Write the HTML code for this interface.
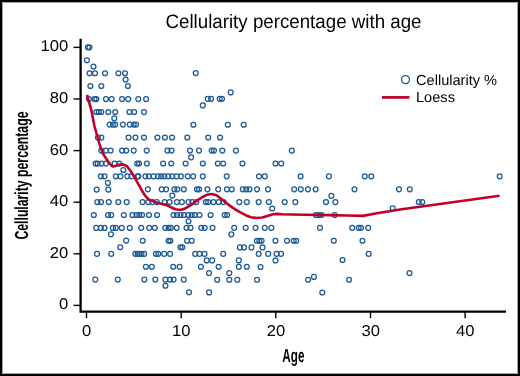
<!DOCTYPE html>
<html><head><meta charset="utf-8"><style>
html,body{margin:0;padding:0;background:#fff;}
svg{display:block;}
text{font-family:"Liberation Sans",sans-serif;fill:#000;text-rendering:geometricPrecision;}
</style></head><body>
<svg width="520" height="376" viewBox="0 0 520 376">
<rect x="0" y="0" width="520" height="376" fill="#fff"/>
<g fill="none" stroke="#1b5a95" stroke-width="1.25">
<circle cx="87.9" cy="47.3" r="2.45"/>
<circle cx="89.4" cy="47.3" r="2.45"/>
<circle cx="86.9" cy="60.2" r="2.45"/>
<circle cx="93.5" cy="66.5" r="2.45"/>
<circle cx="89.6" cy="73.2" r="2.45"/>
<circle cx="95.0" cy="73.2" r="2.45"/>
<circle cx="105.0" cy="73.2" r="2.45"/>
<circle cx="118.4" cy="73.2" r="2.45"/>
<circle cx="125.0" cy="73.2" r="2.45"/>
<circle cx="125.6" cy="79.6" r="2.45"/>
<circle cx="90.4" cy="86.0" r="2.45"/>
<circle cx="101.3" cy="86.0" r="2.45"/>
<circle cx="127.9" cy="86.0" r="2.45"/>
<circle cx="89.0" cy="99.1" r="2.45"/>
<circle cx="94.6" cy="99.1" r="2.45"/>
<circle cx="96.3" cy="99.1" r="2.45"/>
<circle cx="106.0" cy="99.1" r="2.45"/>
<circle cx="111.7" cy="99.1" r="2.45"/>
<circle cx="122.1" cy="99.1" r="2.45"/>
<circle cx="128.2" cy="99.1" r="2.45"/>
<circle cx="138.3" cy="99.1" r="2.45"/>
<circle cx="96.3" cy="112.0" r="2.45"/>
<circle cx="98.7" cy="112.0" r="2.45"/>
<circle cx="101.2" cy="112.0" r="2.45"/>
<circle cx="108.3" cy="112.0" r="2.45"/>
<circle cx="115.2" cy="112.0" r="2.45"/>
<circle cx="129.4" cy="112.0" r="2.45"/>
<circle cx="134.2" cy="112.0" r="2.45"/>
<circle cx="114.3" cy="118.3" r="2.45"/>
<circle cx="109.7" cy="124.6" r="2.45"/>
<circle cx="112.9" cy="124.6" r="2.45"/>
<circle cx="115.2" cy="124.6" r="2.45"/>
<circle cx="122.9" cy="124.6" r="2.45"/>
<circle cx="129.8" cy="124.6" r="2.45"/>
<circle cx="133.7" cy="124.6" r="2.45"/>
<circle cx="136.0" cy="124.6" r="2.45"/>
<circle cx="97.9" cy="137.6" r="2.45"/>
<circle cx="101.3" cy="137.6" r="2.45"/>
<circle cx="128.5" cy="137.6" r="2.45"/>
<circle cx="135.4" cy="137.6" r="2.45"/>
<circle cx="101.3" cy="150.6" r="2.45"/>
<circle cx="106.0" cy="150.6" r="2.45"/>
<circle cx="110.6" cy="150.6" r="2.45"/>
<circle cx="122.1" cy="150.6" r="2.45"/>
<circle cx="126.2" cy="150.6" r="2.45"/>
<circle cx="133.7" cy="150.6" r="2.45"/>
<circle cx="95.6" cy="163.6" r="2.45"/>
<circle cx="97.6" cy="163.6" r="2.45"/>
<circle cx="101.6" cy="163.6" r="2.45"/>
<circle cx="105.8" cy="163.6" r="2.45"/>
<circle cx="114.6" cy="163.6" r="2.45"/>
<circle cx="119.2" cy="163.6" r="2.45"/>
<circle cx="123.3" cy="170.0" r="2.45"/>
<circle cx="100.8" cy="176.3" r="2.45"/>
<circle cx="104.5" cy="176.3" r="2.45"/>
<circle cx="115.8" cy="176.3" r="2.45"/>
<circle cx="120.4" cy="176.3" r="2.45"/>
<circle cx="127.3" cy="176.3" r="2.45"/>
<circle cx="131.5" cy="176.3" r="2.45"/>
<circle cx="137.7" cy="176.3" r="2.45"/>
<circle cx="107.9" cy="182.9" r="2.45"/>
<circle cx="96.7" cy="189.6" r="2.45"/>
<circle cx="108.3" cy="189.6" r="2.45"/>
<circle cx="97.3" cy="202.1" r="2.45"/>
<circle cx="101.0" cy="202.1" r="2.45"/>
<circle cx="108.8" cy="202.1" r="2.45"/>
<circle cx="118.3" cy="202.1" r="2.45"/>
<circle cx="126.7" cy="202.1" r="2.45"/>
<circle cx="93.8" cy="215.0" r="2.45"/>
<circle cx="108.0" cy="215.0" r="2.45"/>
<circle cx="111.2" cy="215.0" r="2.45"/>
<circle cx="123.8" cy="215.0" r="2.45"/>
<circle cx="132.5" cy="215.0" r="2.45"/>
<circle cx="96.2" cy="227.9" r="2.45"/>
<circle cx="100.8" cy="227.9" r="2.45"/>
<circle cx="104.5" cy="227.9" r="2.45"/>
<circle cx="112.9" cy="227.9" r="2.45"/>
<circle cx="115.8" cy="227.9" r="2.45"/>
<circle cx="121.8" cy="227.9" r="2.45"/>
<circle cx="129.8" cy="227.9" r="2.45"/>
<circle cx="110.9" cy="234.3" r="2.45"/>
<circle cx="126.2" cy="240.6" r="2.45"/>
<circle cx="120.2" cy="247.2" r="2.45"/>
<circle cx="97.0" cy="253.8" r="2.45"/>
<circle cx="111.2" cy="253.8" r="2.45"/>
<circle cx="135.4" cy="253.8" r="2.45"/>
<circle cx="137.7" cy="253.8" r="2.45"/>
<circle cx="95.3" cy="279.6" r="2.45"/>
<circle cx="117.8" cy="279.6" r="2.45"/>
<circle cx="146.1" cy="99.1" r="2.45"/>
<circle cx="144.0" cy="112.1" r="2.45"/>
<circle cx="144.0" cy="137.5" r="2.45"/>
<circle cx="157.4" cy="137.5" r="2.45"/>
<circle cx="164.9" cy="137.5" r="2.45"/>
<circle cx="172.1" cy="137.5" r="2.45"/>
<circle cx="187.3" cy="137.5" r="2.45"/>
<circle cx="146.7" cy="150.6" r="2.45"/>
<circle cx="167.5" cy="150.6" r="2.45"/>
<circle cx="171.5" cy="150.6" r="2.45"/>
<circle cx="190.0" cy="150.6" r="2.45"/>
<circle cx="191.1" cy="157.3" r="2.45"/>
<circle cx="137.2" cy="163.5" r="2.45"/>
<circle cx="139.0" cy="163.5" r="2.45"/>
<circle cx="146.9" cy="163.5" r="2.45"/>
<circle cx="163.1" cy="163.5" r="2.45"/>
<circle cx="171.2" cy="163.5" r="2.45"/>
<circle cx="185.6" cy="163.5" r="2.45"/>
<circle cx="145.4" cy="176.3" r="2.45"/>
<circle cx="148.9" cy="176.3" r="2.45"/>
<circle cx="153.5" cy="176.3" r="2.45"/>
<circle cx="157.9" cy="176.3" r="2.45"/>
<circle cx="161.2" cy="176.3" r="2.45"/>
<circle cx="164.3" cy="176.3" r="2.45"/>
<circle cx="168.3" cy="176.3" r="2.45"/>
<circle cx="172.3" cy="176.3" r="2.45"/>
<circle cx="176.5" cy="176.3" r="2.45"/>
<circle cx="180.9" cy="176.3" r="2.45"/>
<circle cx="187.7" cy="176.3" r="2.45"/>
<circle cx="193.2" cy="176.3" r="2.45"/>
<circle cx="147.8" cy="189.3" r="2.45"/>
<circle cx="161.7" cy="189.3" r="2.45"/>
<circle cx="166.1" cy="189.3" r="2.45"/>
<circle cx="174.4" cy="189.3" r="2.45"/>
<circle cx="177.3" cy="189.3" r="2.45"/>
<circle cx="183.8" cy="189.3" r="2.45"/>
<circle cx="172.3" cy="195.6" r="2.45"/>
<circle cx="142.5" cy="202.1" r="2.45"/>
<circle cx="148.3" cy="202.1" r="2.45"/>
<circle cx="152.5" cy="202.1" r="2.45"/>
<circle cx="156.8" cy="202.1" r="2.45"/>
<circle cx="164.6" cy="202.1" r="2.45"/>
<circle cx="169.6" cy="202.1" r="2.45"/>
<circle cx="176.9" cy="202.1" r="2.45"/>
<circle cx="181.9" cy="202.1" r="2.45"/>
<circle cx="188.5" cy="202.1" r="2.45"/>
<circle cx="192.3" cy="202.1" r="2.45"/>
<circle cx="196.2" cy="202.1" r="2.45"/>
<circle cx="136.5" cy="215.0" r="2.45"/>
<circle cx="139.3" cy="215.0" r="2.45"/>
<circle cx="142.1" cy="215.0" r="2.45"/>
<circle cx="149.0" cy="215.0" r="2.45"/>
<circle cx="157.1" cy="215.0" r="2.45"/>
<circle cx="173.5" cy="215.0" r="2.45"/>
<circle cx="177.0" cy="215.0" r="2.45"/>
<circle cx="180.5" cy="215.0" r="2.45"/>
<circle cx="184.0" cy="215.0" r="2.45"/>
<circle cx="188.3" cy="215.0" r="2.45"/>
<circle cx="191.8" cy="215.0" r="2.45"/>
<circle cx="194.8" cy="215.0" r="2.45"/>
<circle cx="199.5" cy="215.0" r="2.45"/>
<circle cx="210.6" cy="215.0" r="2.45"/>
<circle cx="188.5" cy="221.2" r="2.45"/>
<circle cx="141.2" cy="227.8" r="2.45"/>
<circle cx="149.2" cy="227.8" r="2.45"/>
<circle cx="154.8" cy="227.8" r="2.45"/>
<circle cx="165.2" cy="227.8" r="2.45"/>
<circle cx="168.6" cy="227.8" r="2.45"/>
<circle cx="170.9" cy="227.8" r="2.45"/>
<circle cx="176.7" cy="227.8" r="2.45"/>
<circle cx="186.5" cy="227.8" r="2.45"/>
<circle cx="190.5" cy="227.8" r="2.45"/>
<circle cx="142.7" cy="240.7" r="2.45"/>
<circle cx="168.6" cy="240.7" r="2.45"/>
<circle cx="170.3" cy="240.7" r="2.45"/>
<circle cx="187.1" cy="240.7" r="2.45"/>
<circle cx="191.7" cy="240.7" r="2.45"/>
<circle cx="180.5" cy="247.2" r="2.45"/>
<circle cx="182.3" cy="247.2" r="2.45"/>
<circle cx="139.2" cy="253.8" r="2.45"/>
<circle cx="141.5" cy="253.8" r="2.45"/>
<circle cx="144.2" cy="253.8" r="2.45"/>
<circle cx="155.9" cy="253.8" r="2.45"/>
<circle cx="158.2" cy="253.8" r="2.45"/>
<circle cx="164.2" cy="253.8" r="2.45"/>
<circle cx="170.1" cy="253.8" r="2.45"/>
<circle cx="145.9" cy="266.8" r="2.45"/>
<circle cx="151.9" cy="266.8" r="2.45"/>
<circle cx="173.2" cy="266.8" r="2.45"/>
<circle cx="179.6" cy="266.8" r="2.45"/>
<circle cx="144.4" cy="279.6" r="2.45"/>
<circle cx="155.3" cy="279.6" r="2.45"/>
<circle cx="165.4" cy="279.6" r="2.45"/>
<circle cx="170.0" cy="279.6" r="2.45"/>
<circle cx="173.6" cy="279.6" r="2.45"/>
<circle cx="183.8" cy="279.6" r="2.45"/>
<circle cx="165.4" cy="285.8" r="2.45"/>
<circle cx="189.0" cy="292.3" r="2.45"/>
<circle cx="195.7" cy="73.1" r="2.45"/>
<circle cx="230.7" cy="92.4" r="2.45"/>
<circle cx="207.8" cy="98.8" r="2.45"/>
<circle cx="211.1" cy="98.8" r="2.45"/>
<circle cx="219.7" cy="98.8" r="2.45"/>
<circle cx="222.0" cy="98.8" r="2.45"/>
<circle cx="202.8" cy="105.4" r="2.45"/>
<circle cx="193.4" cy="124.7" r="2.45"/>
<circle cx="227.8" cy="124.7" r="2.45"/>
<circle cx="243.7" cy="124.7" r="2.45"/>
<circle cx="208.2" cy="137.5" r="2.45"/>
<circle cx="220.1" cy="137.5" r="2.45"/>
<circle cx="199.0" cy="150.6" r="2.45"/>
<circle cx="211.7" cy="150.6" r="2.45"/>
<circle cx="214.0" cy="150.6" r="2.45"/>
<circle cx="222.3" cy="150.6" r="2.45"/>
<circle cx="235.9" cy="150.6" r="2.45"/>
<circle cx="202.8" cy="163.5" r="2.45"/>
<circle cx="217.8" cy="163.5" r="2.45"/>
<circle cx="223.2" cy="163.5" r="2.45"/>
<circle cx="242.5" cy="163.5" r="2.45"/>
<circle cx="202.8" cy="176.3" r="2.45"/>
<circle cx="226.7" cy="176.3" r="2.45"/>
<circle cx="197.0" cy="189.3" r="2.45"/>
<circle cx="199.0" cy="189.3" r="2.45"/>
<circle cx="207.4" cy="189.3" r="2.45"/>
<circle cx="218.2" cy="189.3" r="2.45"/>
<circle cx="227.0" cy="189.3" r="2.45"/>
<circle cx="231.8" cy="189.3" r="2.45"/>
<circle cx="242.8" cy="189.3" r="2.45"/>
<circle cx="246.3" cy="189.3" r="2.45"/>
<circle cx="205.9" cy="202.1" r="2.45"/>
<circle cx="208.2" cy="202.1" r="2.45"/>
<circle cx="213.6" cy="202.1" r="2.45"/>
<circle cx="218.6" cy="202.1" r="2.45"/>
<circle cx="223.5" cy="202.1" r="2.45"/>
<circle cx="239.3" cy="202.1" r="2.45"/>
<circle cx="246.8" cy="202.1" r="2.45"/>
<circle cx="224.7" cy="215.0" r="2.45"/>
<circle cx="227.2" cy="215.0" r="2.45"/>
<circle cx="201.3" cy="227.8" r="2.45"/>
<circle cx="204.7" cy="227.8" r="2.45"/>
<circle cx="212.5" cy="227.8" r="2.45"/>
<circle cx="234.2" cy="227.8" r="2.45"/>
<circle cx="245.7" cy="227.8" r="2.45"/>
<circle cx="231.3" cy="234.3" r="2.45"/>
<circle cx="239.9" cy="247.4" r="2.45"/>
<circle cx="244.0" cy="247.4" r="2.45"/>
<circle cx="195.2" cy="253.8" r="2.45"/>
<circle cx="199.5" cy="253.8" r="2.45"/>
<circle cx="204.5" cy="253.8" r="2.45"/>
<circle cx="223.2" cy="253.8" r="2.45"/>
<circle cx="206.7" cy="260.4" r="2.45"/>
<circle cx="212.2" cy="260.4" r="2.45"/>
<circle cx="238.8" cy="260.4" r="2.45"/>
<circle cx="200.9" cy="266.8" r="2.45"/>
<circle cx="218.6" cy="266.8" r="2.45"/>
<circle cx="238.8" cy="266.8" r="2.45"/>
<circle cx="246.8" cy="266.8" r="2.45"/>
<circle cx="209.0" cy="273.1" r="2.45"/>
<circle cx="229.3" cy="273.1" r="2.45"/>
<circle cx="217.2" cy="279.7" r="2.45"/>
<circle cx="229.3" cy="279.7" r="2.45"/>
<circle cx="237.3" cy="279.7" r="2.45"/>
<circle cx="209.1" cy="292.4" r="2.45"/>
<circle cx="291.8" cy="150.6" r="2.45"/>
<circle cx="275.5" cy="163.5" r="2.45"/>
<circle cx="281.2" cy="163.5" r="2.45"/>
<circle cx="259.0" cy="176.3" r="2.45"/>
<circle cx="264.8" cy="176.3" r="2.45"/>
<circle cx="249.5" cy="189.3" r="2.45"/>
<circle cx="257.0" cy="189.3" r="2.45"/>
<circle cx="268.0" cy="189.3" r="2.45"/>
<circle cx="294.2" cy="189.3" r="2.45"/>
<circle cx="300.8" cy="189.3" r="2.45"/>
<circle cx="258.7" cy="202.1" r="2.45"/>
<circle cx="268.9" cy="202.1" r="2.45"/>
<circle cx="284.7" cy="202.1" r="2.45"/>
<circle cx="295.3" cy="202.1" r="2.45"/>
<circle cx="272.2" cy="208.5" r="2.45"/>
<circle cx="255.6" cy="227.8" r="2.45"/>
<circle cx="264.8" cy="227.8" r="2.45"/>
<circle cx="271.4" cy="227.8" r="2.45"/>
<circle cx="256.8" cy="240.7" r="2.45"/>
<circle cx="259.3" cy="240.7" r="2.45"/>
<circle cx="261.6" cy="240.7" r="2.45"/>
<circle cx="275.5" cy="240.7" r="2.45"/>
<circle cx="287.0" cy="240.7" r="2.45"/>
<circle cx="293.7" cy="240.7" r="2.45"/>
<circle cx="296.2" cy="240.7" r="2.45"/>
<circle cx="251.5" cy="247.4" r="2.45"/>
<circle cx="262.5" cy="247.4" r="2.45"/>
<circle cx="258.7" cy="253.8" r="2.45"/>
<circle cx="268.2" cy="253.8" r="2.45"/>
<circle cx="276.6" cy="253.8" r="2.45"/>
<circle cx="281.0" cy="253.8" r="2.45"/>
<circle cx="275.5" cy="260.4" r="2.45"/>
<circle cx="260.5" cy="267.0" r="2.45"/>
<circle cx="257.0" cy="279.8" r="2.45"/>
<circle cx="300.6" cy="176.3" r="2.45"/>
<circle cx="328.9" cy="176.3" r="2.45"/>
<circle cx="307.9" cy="189.3" r="2.45"/>
<circle cx="315.6" cy="189.3" r="2.45"/>
<circle cx="331.4" cy="195.8" r="2.45"/>
<circle cx="326.0" cy="202.1" r="2.45"/>
<circle cx="335.4" cy="202.1" r="2.45"/>
<circle cx="315.8" cy="215.0" r="2.45"/>
<circle cx="319.1" cy="215.0" r="2.45"/>
<circle cx="321.4" cy="215.0" r="2.45"/>
<circle cx="334.7" cy="215.0" r="2.45"/>
<circle cx="320.0" cy="227.8" r="2.45"/>
<circle cx="352.2" cy="227.8" r="2.45"/>
<circle cx="333.8" cy="240.7" r="2.45"/>
<circle cx="342.5" cy="260.0" r="2.45"/>
<circle cx="313.9" cy="276.9" r="2.45"/>
<circle cx="308.1" cy="279.8" r="2.45"/>
<circle cx="349.1" cy="279.8" r="2.45"/>
<circle cx="322.3" cy="292.5" r="2.45"/>
<circle cx="364.8" cy="176.3" r="2.45"/>
<circle cx="371.3" cy="176.3" r="2.45"/>
<circle cx="354.5" cy="189.3" r="2.45"/>
<circle cx="399.0" cy="189.3" r="2.45"/>
<circle cx="392.7" cy="208.3" r="2.45"/>
<circle cx="358.7" cy="227.8" r="2.45"/>
<circle cx="361.0" cy="227.8" r="2.45"/>
<circle cx="368.2" cy="227.8" r="2.45"/>
<circle cx="362.5" cy="240.7" r="2.45"/>
<circle cx="368.7" cy="253.8" r="2.45"/>
<circle cx="409.5" cy="273.1" r="2.45"/>
<circle cx="409.8" cy="189.3" r="2.45"/>
<circle cx="418.8" cy="202.0" r="2.45"/>
<circle cx="422.3" cy="202.0" r="2.45"/>
<circle cx="499.7" cy="176.3" r="2.45"/>
<circle cx="138.3" cy="176.3" r="2.45"/>
</g>
<path d="M87.1 94.8 L91.6 111.3 L94.4 126.0 L96.7 134.0 L99.3 143.3 L100.8 148.0 L103.2 154.0 L107.6 160.8 L110.2 164.2 L112.4 166.4 L114.5 166.2 L117.2 165.2 L120.0 164.6 L122.8 164.4 L126.8 166.0 L130.8 171.2 L133.5 175.6 L136.4 180.6 L141.7 190.2 L144.5 194.8 L146.5 197.3 L149.1 199.8 L154.5 201.9 L161.9 204.0 L166.0 204.9 L170.8 207.2 L175.6 209.2 L180.4 210.0 L185.2 208.4 L190.0 205.6 L194.8 202.4 L199.6 198.8 L202.5 197.0 L206.8 194.8 L211.6 194.0 L216.4 195.2 L221.2 198.8 L226.0 202.8 L230.8 206.4 L235.6 209.6 L240.4 212.4 L245.7 215.2 L250.8 217.2 L256.5 218.0 L262.3 217.5 L268.1 215.7 L273.0 214.2 L277.0 213.9 L281.9 214.2 L291.2 214.5 L305.0 214.8 L319.2 215.0 L330.0 215.1 L346.2 215.5 L363.0 215.9 L377.1 213.2 L400.0 209.5 L499.6 195.8" fill="none" stroke="#c1002a" stroke-width="2.6" stroke-linejoin="round" stroke-linecap="butt"/>
<g stroke="#000" stroke-width="1.4"><line x1="73.6" y1="47.4" x2="80" y2="47.4"/><line x1="73.6" y1="99.0" x2="80" y2="99.0"/><line x1="73.6" y1="150.6" x2="80" y2="150.6"/><line x1="73.6" y1="202.2" x2="80" y2="202.2"/><line x1="73.6" y1="253.8" x2="80" y2="253.8"/><line x1="73.6" y1="305.4" x2="80" y2="305.4"/><line x1="86.5" y1="312" x2="86.5" y2="318.2"/><line x1="181.2" y1="312" x2="181.2" y2="318.2"/><line x1="275.8" y1="312" x2="275.8" y2="318.2"/><line x1="370.5" y1="312" x2="370.5" y2="318.2"/><line x1="465.1" y1="312" x2="465.1" y2="318.2"/></g>
<path d="M80.6 38.8 L80.6 311.6 L506 311.6" fill="none" stroke="#000" stroke-width="2.3" stroke-linejoin="miter"/>
<circle cx="405.5" cy="79.6" r="4.0" fill="none" stroke="#1b5a95" stroke-width="1.3"/>
<line x1="382" y1="97.4" x2="409.4" y2="97.4" stroke="#c1002a" stroke-width="2.7"/>
<g opacity="0.999">
<text transform="translate(165.5 28.2) scale(0.96 1)" font-size="19.5">Cellularity percentage with age</text>
<g font-size="15.7"><text transform="translate(68.2 51.4) scale(1.06 1)" text-anchor="end">100</text><text transform="translate(68.2 103.0) scale(1.06 1)" text-anchor="end">80</text><text transform="translate(68.2 154.6) scale(1.06 1)" text-anchor="end">60</text><text transform="translate(68.2 206.2) scale(1.06 1)" text-anchor="end">40</text><text transform="translate(68.2 257.8) scale(1.06 1)" text-anchor="end">20</text><text transform="translate(68.2 309.4) scale(1.06 1)" text-anchor="end">0</text><text transform="translate(86.7 335.5) scale(1.06 1)" text-anchor="middle">0</text><text transform="translate(181.3 335.5) scale(1.06 1)" text-anchor="middle">10</text><text transform="translate(276.0 335.5) scale(1.06 1)" text-anchor="middle">20</text><text transform="translate(370.7 335.5) scale(1.06 1)" text-anchor="middle">30</text><text transform="translate(465.3 335.5) scale(1.06 1)" text-anchor="middle">40</text></g>
<text x="416" y="84.5" font-size="14.6">Cellularity %</text>
<text x="416" y="101.5" font-size="14.6">Loess</text>
<text transform="translate(28.2 239.6) rotate(-90) scale(0.645 1)" font-size="19" font-weight="bold">Cellularity percentage</text>
<text transform="translate(282.3 361.5) scale(0.615 1)" font-size="19" font-weight="bold">Age</text>
</g>
<rect x="2.5" y="2.5" width="515" height="371" fill="none" stroke="#a6a6a6" stroke-width="1"/>
<rect x="1" y="1" width="518" height="374" fill="none" stroke="#000" stroke-width="2"/>
</svg>
</body></html>
